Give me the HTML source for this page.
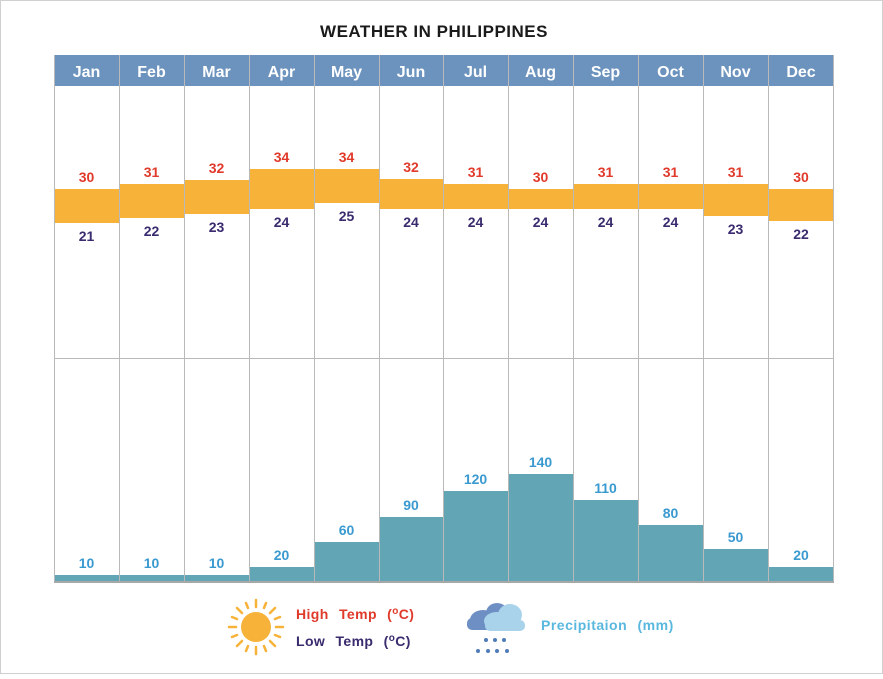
<!DOCTYPE html>
<html><head><meta charset="utf-8"><style>
body{margin:0;background:#fff}
svg text{font-family:"Liberation Sans",sans-serif;font-weight:bold}
.m{font-size:16px;fill:#fff}
.h{font-size:14px;fill:#e03a2b}
.l{font-size:14px;fill:#3a2a6e}
.p{font-size:14px;fill:#3a9ad0}
</style></head><body>
<svg width="883" height="674" viewBox="0 0 883 674" xmlns="http://www.w3.org/2000/svg">
<rect x="0.5" y="0.5" width="882" height="673" fill="#fff" stroke="#d0d0d0"/>
<text x="434" y="37" text-anchor="middle" font-size="17" fill="#1a1a1a" letter-spacing="0.5">WEATHER  IN  PHILIPPINES</text>
<rect x="54" y="55" width="780" height="31" fill="#6c93bd"/>
<g text-anchor="middle">
<text class="m" x="86.5" y="77">Jan</text><text class="m" x="151.5" y="77">Feb</text><text class="m" x="216.5" y="77">Mar</text><text class="m" x="281.5" y="77">Apr</text><text class="m" x="346.5" y="77">May</text><text class="m" x="411" y="77">Jun</text><text class="m" x="475.5" y="77">Jul</text><text class="m" x="540.5" y="77">Aug</text><text class="m" x="605.5" y="77">Sep</text><text class="m" x="670.5" y="77">Oct</text><text class="m" x="735.5" y="77">Nov</text><text class="m" x="801" y="77">Dec</text>
</g>
<g fill="#f7b239">
<rect x="54" y="189" width="65" height="34"/><rect x="119" y="184" width="65" height="34"/><rect x="184" y="180" width="65" height="34"/><rect x="249" y="169" width="65" height="40"/><rect x="314" y="169" width="65" height="34"/><rect x="379" y="179" width="64" height="30"/><rect x="443" y="184" width="65" height="25"/><rect x="508" y="189" width="65" height="20"/><rect x="573" y="184" width="65" height="25"/><rect x="638" y="184" width="65" height="25"/><rect x="703" y="184" width="65" height="32"/><rect x="768" y="189" width="66" height="32"/>
</g>
<g text-anchor="middle">
<text class="h" x="86.5" y="182">30</text><text class="h" x="151.5" y="177">31</text><text class="h" x="216.5" y="173">32</text><text class="h" x="281.5" y="162">34</text><text class="h" x="346.5" y="162">34</text><text class="h" x="411" y="172">32</text><text class="h" x="475.5" y="177">31</text><text class="h" x="540.5" y="182">30</text><text class="h" x="605.5" y="177">31</text><text class="h" x="670.5" y="177">31</text><text class="h" x="735.5" y="177">31</text><text class="h" x="801" y="182">30</text>
<text class="l" x="86.5" y="241">21</text><text class="l" x="151.5" y="236">22</text><text class="l" x="216.5" y="232">23</text><text class="l" x="281.5" y="227">24</text><text class="l" x="346.5" y="221">25</text><text class="l" x="411" y="227">24</text><text class="l" x="475.5" y="227">24</text><text class="l" x="540.5" y="227">24</text><text class="l" x="605.5" y="227">24</text><text class="l" x="670.5" y="227">24</text><text class="l" x="735.5" y="234">23</text><text class="l" x="801" y="239">22</text>
</g>
<g fill="#62a5b4">
<rect x="54" y="575" width="65" height="7"/><rect x="119" y="575" width="65" height="7"/><rect x="184" y="575" width="65" height="7"/><rect x="249" y="567" width="65" height="15"/><rect x="314" y="542" width="65" height="40"/><rect x="379" y="517" width="64" height="65"/><rect x="443" y="491" width="65" height="91"/><rect x="508" y="474" width="65" height="108"/><rect x="573" y="500" width="65" height="82"/><rect x="638" y="525" width="65" height="57"/><rect x="703" y="549" width="65" height="33"/><rect x="768" y="567" width="66" height="15"/>
</g>
<g text-anchor="middle">
<text class="p" x="86.5" y="568">10</text><text class="p" x="151.5" y="568">10</text><text class="p" x="216.5" y="568">10</text><text class="p" x="281.5" y="560">20</text><text class="p" x="346.5" y="535">60</text><text class="p" x="411" y="510">90</text><text class="p" x="475.5" y="484">120</text><text class="p" x="540.5" y="467">140</text><text class="p" x="605.5" y="493">110</text><text class="p" x="670.5" y="518">80</text><text class="p" x="735.5" y="542">50</text><text class="p" x="801" y="560">20</text>
</g>
<g stroke="#b9b9b9" stroke-width="1">
<line x1="54.5" y1="55" x2="54.5" y2="582"/><line x1="119.5" y1="55" x2="119.5" y2="582"/><line x1="184.5" y1="55" x2="184.5" y2="582"/><line x1="249.5" y1="55" x2="249.5" y2="582"/><line x1="314.5" y1="55" x2="314.5" y2="582"/><line x1="379.5" y1="55" x2="379.5" y2="582"/><line x1="443.5" y1="55" x2="443.5" y2="582"/><line x1="508.5" y1="55" x2="508.5" y2="582"/><line x1="573.5" y1="55" x2="573.5" y2="582"/><line x1="638.5" y1="55" x2="638.5" y2="582"/><line x1="703.5" y1="55" x2="703.5" y2="582"/><line x1="768.5" y1="55" x2="768.5" y2="582"/><line x1="833.5" y1="55" x2="833.5" y2="582"/>
<line x1="54" y1="358.5" x2="834" y2="358.5"/><line x1="54" y1="582" x2="834" y2="582" stroke="#a8a8a8" stroke-width="2"/>
</g>
<g transform="translate(256,627)">
<circle r="15" fill="#f7b239"/>
<g stroke="#f7b239" stroke-width="2.5" stroke-linecap="round">
<line x1="0" y1="-20" x2="0" y2="-27"/><line x1="0" y1="20" x2="0" y2="27"/><line x1="-20" y1="0" x2="-27" y2="0"/><line x1="20" y1="0" x2="27" y2="0"/>
<line x1="14" y1="14" x2="19" y2="19"/><line x1="-14" y1="14" x2="-19" y2="19"/><line x1="14" y1="-14" x2="19" y2="-19"/><line x1="-14" y1="-14" x2="-19" y2="-19"/>
<line x1="8" y1="-19" x2="10" y2="-24"/><line x1="-8" y1="-19" x2="-10" y2="-24"/><line x1="8" y1="19" x2="10" y2="24"/><line x1="-8" y1="19" x2="-10" y2="24"/>
<line x1="19" y1="8" x2="24" y2="10"/><line x1="-19" y1="8" x2="-24" y2="10"/><line x1="19" y1="-8" x2="24" y2="-10"/><line x1="-19" y1="-8" x2="-24" y2="-10"/>
</g></g>
<text x="296" y="619" font-size="14" fill="#e03a2b" word-spacing="6" letter-spacing="0.4">High Temp (<tspan font-size="10" dy="-5">o</tspan><tspan dy="5">C)</tspan></text>
<text x="296" y="646" font-size="14" fill="#3a2a6e" word-spacing="6" letter-spacing="0.4">Low Temp (<tspan font-size="10" dy="-5">o</tspan><tspan dy="5">C)</tspan></text>
<g>
<ellipse cx="483" cy="620" rx="13" ry="10" fill="#6e8fc4"/>
<ellipse cx="497" cy="613" rx="11" ry="10" fill="#6e8fc4"/>
<rect x="467" y="618" width="40" height="12" rx="5" fill="#6e8fc4"/>
<ellipse cx="497" cy="621" rx="13" ry="9" fill="#a9d3ea"/>
<ellipse cx="510" cy="615" rx="12" ry="11" fill="#a9d3ea"/>
<rect x="485" y="620" width="40" height="11" rx="5" fill="#a9d3ea"/>
<g fill="#4f7bb8"><circle cx="486" cy="640" r="2"/><circle cx="495" cy="640" r="2"/><circle cx="504" cy="640" r="2"/><circle cx="478" cy="651" r="2"/><circle cx="488" cy="651" r="2"/><circle cx="497" cy="651" r="2"/><circle cx="507" cy="651" r="2"/></g>
</g>
<text x="541" y="630" font-size="14" fill="#5ab8df" word-spacing="6" letter-spacing="0.5">Precipitaion (mm)</text>
</svg>
</body></html>
